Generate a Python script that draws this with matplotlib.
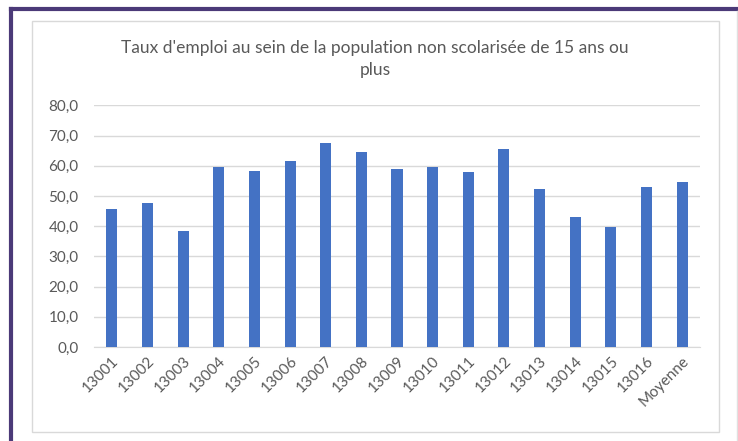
import matplotlib.pyplot as plt
from matplotlib.lines import Line2D
from matplotlib.patches import Rectangle
from matplotlib.ticker import FuncFormatter

categories = ["13001", "13002", "13003", "13004", "13005", "13006", "13007", "13008",
              "13009", "13010", "13011", "13012", "13013", "13014", "13015", "13016",
              "Moyenne"]
values = [45.6, 47.5, 38.4, 59.7, 58.4, 61.7, 67.4, 64.6,
          58.8, 59.7, 57.9, 65.5, 52.2, 43.1, 39.8, 53.1, 54.6]
title = "Taux d'emploi au sein de la population non scolarisée de 15 ans ou\nplus"

plt.rcParams['font.family'] = ['Lato', 'DejaVu Sans']
text_col = "#595959"

fig = plt.figure(figsize=(7.38, 4.41), dpi=100)
W, H = 738, 441

# cadre de la zone du graphique
fig.patches.append(Rectangle((32 / W, 1 - 432 / H), (719 - 32) / W, (432 - 21) / H,
                             transform=fig.transFigure, fill=False,
                             edgecolor="#d9d9d9", lw=1))
# bordure violette (gauche et haut)
fig.lines.append(Line2D([11 / W, 11 / W], [0, 1 - 9 / H], transform=fig.transFigure,
                        color="#4b3a78", lw=3))
fig.lines.append(Line2D([11 / W, 1], [1 - 9 / H, 1 - 9 / H], transform=fig.transFigure,
                        color="#4b3a78", lw=3))
fig.lines.append(Line2D([737 / W, 737 / W], [0, 1 - 11 / H], transform=fig.transFigure,
                        color="#e0e0e0", lw=1))

ax = fig.add_axes([94 / W, 94 / H, 606 / W, 241.7 / H])
x = range(len(categories))
ax.bar(x, values, width=0.31, color="#4472C4", zorder=3)
ax.set_xlim(-0.5, len(categories) - 0.5)
ax.set_ylim(0, 80)
ax.set_yticks(range(0, 81, 10))
ax.yaxis.set_major_formatter(FuncFormatter(lambda v, p: f"{v:.1f}".replace(".", ",")))
ax.grid(axis="y", color="#d9d9d9", lw=1, zorder=0)
for s in ["top", "right", "left"]:
    ax.spines[s].set_visible(False)
ax.spines["bottom"].set_color("#d9d9d9")
ax.tick_params(axis="y", length=0, pad=11, labelsize=11, labelcolor=text_col)
ax.tick_params(axis="x", length=0, pad=5, labelsize=11, labelcolor=text_col)
ax.set_xticks(list(x))
ax.set_xticklabels(categories, rotation=45, ha="right", rotation_mode="anchor")

fig.text(375 / W, 1 - 59 / H, title, ha="center", va="center", fontsize=12.5,
         color=text_col, linespacing=1.45)

fig.savefig("out.png", dpi=100)
